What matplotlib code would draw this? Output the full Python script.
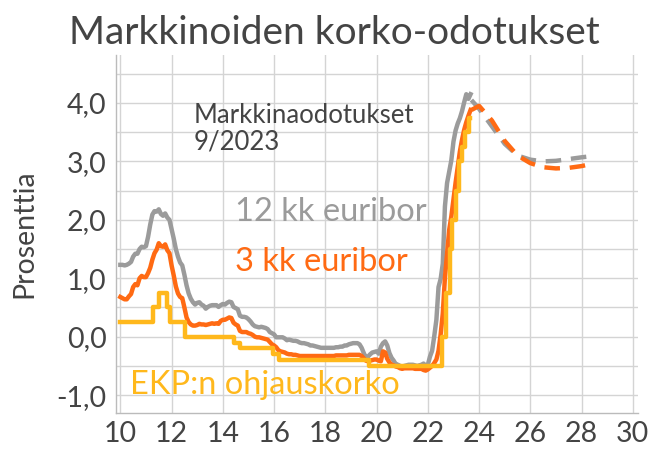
import numpy as np
import matplotlib.pyplot as plt

# 12 kk euribor, monthly averages Jan 2010 - Sep 2023
euribor12 = [
    1.23, 1.23, 1.22, 1.23, 1.25, 1.28, 1.37, 1.42, 1.42, 1.50, 1.54, 1.53,
    1.55, 1.71, 1.92, 2.09, 2.15, 2.14, 2.18, 2.10, 2.07, 2.11, 2.04, 2.00,
    1.84, 1.68, 1.50, 1.37, 1.27, 1.22, 1.06, 0.88, 0.74, 0.65, 0.59, 0.55,
    0.58, 0.59, 0.55, 0.53, 0.48, 0.51, 0.53, 0.54, 0.54, 0.54, 0.51, 0.54,
    0.56, 0.55, 0.58, 0.60, 0.59, 0.51, 0.49, 0.47, 0.36, 0.34, 0.34, 0.33,
    0.30, 0.26, 0.21, 0.18, 0.17, 0.16, 0.17, 0.16, 0.15, 0.13, 0.08, 0.06,
    0.04, -0.01, -0.01, -0.01, -0.01, -0.03, -0.06, -0.05, -0.06, -0.07, -0.07, -0.08,
    -0.10, -0.11, -0.11, -0.12, -0.13, -0.15, -0.15, -0.16, -0.17, -0.18, -0.19, -0.19,
    -0.19, -0.19, -0.19, -0.19, -0.19, -0.18, -0.18, -0.17, -0.17, -0.15, -0.15, -0.13,
    -0.12, -0.11, -0.11, -0.11, -0.13, -0.19, -0.28, -0.36, -0.34, -0.30, -0.27, -0.26,
    -0.25, -0.29, -0.17, -0.11, -0.08, -0.15, -0.28, -0.36, -0.41, -0.47, -0.48, -0.50,
    -0.51, -0.50, -0.49, -0.48, -0.48, -0.48, -0.49, -0.50, -0.49, -0.48, -0.46, -0.50,
    -0.48, -0.34, -0.24, 0.01, 0.29, 0.85, 0.99, 1.25, 2.23, 2.63, 2.83, 3.02,
    3.34, 3.53, 3.65, 3.74, 3.86, 4.01, 4.15, 4.07, 4.15,
]

# 3 kk euribor, monthly averages Jan 2010 - Sep 2023
euribor3 = [
    0.68, 0.66, 0.64, 0.64, 0.69, 0.73, 0.85, 0.90, 0.88, 1.00, 1.04, 1.02,
    1.02, 1.09, 1.18, 1.32, 1.43, 1.49, 1.60, 1.55, 1.54, 1.58, 1.48, 1.43,
    1.22, 1.05, 0.86, 0.74, 0.68, 0.66, 0.50, 0.33, 0.25, 0.21, 0.19, 0.19,
    0.20, 0.22, 0.21, 0.21, 0.20, 0.21, 0.22, 0.23, 0.22, 0.23, 0.22, 0.27,
    0.29, 0.29, 0.31, 0.33, 0.32, 0.24, 0.21, 0.19, 0.10, 0.08, 0.08, 0.08,
    0.06, 0.05, 0.03, 0.00, -0.01, -0.01, -0.02, -0.03, -0.04, -0.05, -0.09, -0.13,
    -0.15, -0.18, -0.23, -0.25, -0.26, -0.27, -0.29, -0.30, -0.30, -0.31, -0.31, -0.32,
    -0.33, -0.33, -0.33, -0.33, -0.33, -0.33, -0.33, -0.33, -0.33, -0.33, -0.33, -0.33,
    -0.33, -0.33, -0.33, -0.33, -0.33, -0.32, -0.32, -0.32, -0.32, -0.32, -0.32, -0.31,
    -0.31, -0.31, -0.31, -0.31, -0.31, -0.33, -0.37, -0.41, -0.42, -0.41, -0.40, -0.39,
    -0.39, -0.41, -0.42, -0.25, -0.27, -0.38, -0.44, -0.48, -0.49, -0.51, -0.52, -0.54,
    -0.55, -0.54, -0.54, -0.54, -0.54, -0.54, -0.55, -0.55, -0.55, -0.55, -0.57, -0.58,
    -0.56, -0.53, -0.50, -0.45, -0.39, -0.24, 0.04, 0.40, 1.01, 1.43, 1.83, 2.06,
    2.35, 2.64, 2.91, 3.17, 3.37, 3.54, 3.67, 3.78, 3.88,
]

# EKP:n ohjauskorko (talletuskorko), change dates as years since 2000
ecb_x = [10.0, 11.27, 11.52, 11.84, 11.93, 12.52, 14.44, 14.68, 15.94, 16.2,
         19.7, 22.54, 22.7, 22.86, 22.96, 23.1, 23.21, 23.34, 23.46, 23.6, 23.66]
ecb_y = [0.25, 0.5, 0.75, 0.5, 0.25, 0.0, -0.1, -0.2, -0.3, -0.4,
         -0.5, 0.0, 0.75, 1.5, 2.0, 2.5, 3.0, 3.25, 3.5, 3.75, 3.75]

# market expectations 9/2023
fc_x = [23.7, 24.0, 24.5, 25.0, 25.5, 26.0, 26.5, 27.0, 27.5, 28.0, 28.4]
fc12 = [4.05, 3.9, 3.6, 3.3, 3.1, 3.03, 3.0, 3.01, 3.04, 3.07, 3.09]
fc3 = [3.88, 3.95, 3.7, 3.35, 3.1, 2.97, 2.9, 2.88, 2.89, 2.92, 2.96]

GRAY = '#9b9b9b'
ORANGE = '#ff6a13'
YELLOW = '#ffb81c'
TXT = '#444444'

plt.rcParams['font.family'] = ['Lato', 'DejaVu Sans']

fig = plt.figure(figsize=(6.53, 4.55), dpi=100)
ax = fig.add_axes([0.178, 0.093, 0.799, 0.786])

x12 = 10 + np.arange(len(euribor12)) / 12.0
x3 = 10 + np.arange(len(euribor3)) / 12.0

lw = 3.2
ax.plot(x12, euribor12, color=GRAY, lw=lw, zorder=3)
ax.plot(fc_x, fc12, color=GRAY, lw=lw, dashes=(3.5, 2.2), zorder=3)
ax.plot(x3, euribor3, color=ORANGE, lw=lw, zorder=4)
ax.plot(fc_x, fc3, color=ORANGE, lw=lw, dashes=(3.5, 2.2), zorder=4)
ax.plot(ecb_x, ecb_y, color=YELLOW, lw=lw, drawstyle='steps-post', zorder=5)

ax.set_xlim(9.84, 30.2)
ax.set_ylim(-1.3, 4.82)
ax.set_xticks(np.arange(10, 31, 2))
ax.set_yticks(np.arange(-1, 4.1, 1))
ax.set_yticklabels(['-1,0', '0,0', '1,0', '2,0', '3,0', '4,0'])
ax.set_yticks(np.arange(-1, 4.6, 0.5), minor=True)
ax.grid(True, which='major', axis='x', color='#d4d4d4', lw=1)
ax.grid(True, which='both', axis='y', color='#d4d4d4', lw=1)
ax.set_axisbelow(True)
ax.tick_params(which='both', length=0, labelsize=20.5, colors=TXT)
ax.tick_params(axis='x', pad=6)
ax.tick_params(axis='y', pad=7)
for s in ['top', 'right']:
    ax.spines[s].set_visible(False)
for s in ['left', 'bottom']:
    ax.spines[s].set_color('#bbbbbb')
    ax.spines[s].set_linewidth(1)

ax.set_ylabel('Prosenttia', fontsize=20.5, color=TXT)
ax.yaxis.set_label_coords(-0.152, 0.5)
fig.text(0.105, 0.927, 'Markkinoiden korko-odotukset', fontsize=28, color=TXT,
         ha='left', va='center')

ax.text(12.85, 4.0, 'Markkinaodotukset\n9/2023', fontsize=18.5, color=TXT,
        va='top', ha='left', linespacing=1.1)
ax.text(14.48, 2.13, '12 kk euribor', fontsize=23.5, color=GRAY, va='center')
ax.text(14.48, 1.28, '3 kk euribor', fontsize=23.5, color=ORANGE, va='center')
ax.text(10.39, -0.83, 'EKP:n ohjauskorko', fontsize=23.5, color=YELLOW, va='center')

fig.savefig('out.png', dpi=100)
